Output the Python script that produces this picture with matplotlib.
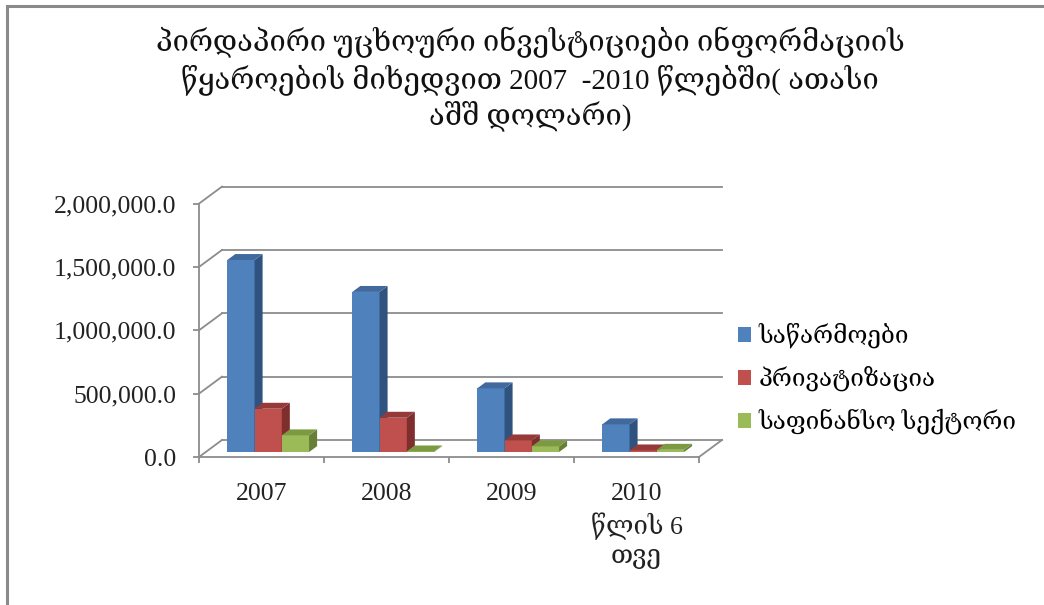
import matplotlib
matplotlib.use("Agg")
import matplotlib.pyplot as plt
from matplotlib.patches import Polygon
from matplotlib.lines import Line2D

plt.rcParams['font.family'] = ['Liberation Serif', 'DejaVu Serif', 'DejaVu Sans']

# data (thousand USD)
categories = ["2007", "2008", "2009", "2010\nწლის 6\nთვე"]
series_names = ["საწარმოები", "პრივატიზაცია", "საფინანსო სექტორი"]
enterprises = [1516000, 1264000, 503000, 219000]
privatization = [342000, 271000, 92000, 13000]
finance = [132000, 5000, 45000, 18000]
yticks = [0, 500000, 1000000, 1500000, 2000000]
title = ("პირდაპირი უცხოური ინვესტიციები ინფორმაციის\n"
         "წყაროების მიხედვით 2007  -2010 წლებში( ათასი\n"
         "აშშ დოლარი)")

series = [enterprises, privatization, finance]
front_col = ['#4F81BD', '#C0504D', '#9BBB59']
side_col = ['#30527E', '#7E2F2D', '#677F36']
top_col = ['#41699E', '#953A38', '#7C9A42']
grid_col = '#8C8C8C'

W, H = 1044, 605
fig = plt.figure(figsize=(W / 100, H / 100), dpi=100)

# front plane: x 0..4 -> px 199..699, y 0..2M -> px 457..203.6
px_x0, px_x1 = 199, 699
px_y0, px_y1 = 457, 203.6
depth_px = (23, 17)
ax_right = 724
ax_top = 185
ux = 4 / (px_x1 - px_x0)
uy = 2e6 / (px_y0 - px_y1)
ax = fig.add_axes([px_x0 / W, (H - px_y0) / H, (ax_right - px_x0) / W, (px_y0 - ax_top) / H])
ax.set_xlim(0, (ax_right - px_x0) * ux)
ax.set_ylim(0, (px_y0 - ax_top) * uy)
ddx, ddy = depth_px[0] * ux, depth_px[1] * uy

# walls: back gridlines and left diagonals
for v in yticks:
    ax.plot([ddx, 4 + ddx], [v + ddy, v + ddy], color=grid_col, lw=1.3, zorder=1, clip_on=False)
    ax.plot([0, ddx], [v, v + ddy], color=grid_col, lw=1.3, zorder=1, clip_on=False)
ax.plot([4, 4 + ddx], [0, ddy], color=grid_col, lw=1.3, zorder=1, clip_on=False)

# bars
n = len(series)
w = 0.218
z0, z1 = 0.29, 0.64
b = z0 * ddy
bdx, bdy = (z1 - z0) * ddx, (z1 - z0) * ddy
handles = []
for i in range(len(categories)):
    for k in range(n):
        h = series[k][i]
        xl = i + 0.5 - 1.5 * w + z0 * ddx + k * w
        xr = xl + w
        zo = 3 + i * 10 + k * 3
        bc = ax.bar(xl, h, width=w, bottom=b, align='edge', color=front_col[k],
                    linewidth=0, zorder=zo, label=series_names[k] if i == 0 else None)
        if i == 0:
            handles.append(bc)
        ax.add_patch(Polygon([(xr, b), (xr + bdx, b + bdy), (xr + bdx, b + h + bdy), (xr, b + h)],
                             closed=True, facecolor=side_col[k], linewidth=0, zorder=zo + 1))
        ax.add_patch(Polygon([(xl, b + h), (xr, b + h), (xr + bdx, b + h + bdy), (xl + bdx, b + h + bdy)],
                             closed=True, facecolor=top_col[k], linewidth=0, zorder=zo + 2))

# axes styling
for s in ['top', 'right']:
    ax.spines[s].set_visible(False)
ax.spines['left'].set_bounds(0, 2e6)
ax.spines['bottom'].set_bounds(0, 4)
for s in ['left', 'bottom']:
    ax.spines[s].set_color(grid_col)
    ax.spines[s].set_linewidth(1.3)
    ax.spines[s].set_zorder(2)

ax.set_yticks(yticks)
ax.set_yticklabels([f"{v:,.1f}" for v in yticks])
ax.tick_params(axis='y', direction='out', length=4.5, width=1.3, color=grid_col,
               labelsize=18.5, pad=12, labelcolor='#222222')
ax.set_xticks(range(5))
ax.set_xticklabels([])
ax.set_xticks([i + 0.5 for i in range(4)], minor=True)
ax.set_xticklabels(categories, minor=True, fontsize=18.5, color='#222222', linespacing=1.35,
                   va='top')
ax.tick_params(axis='x', which='major', direction='out', length=4.5, width=1.3, color=grid_col)
ax.tick_params(axis='x', which='minor', length=0, pad=19)
ax.patch.set_visible(False)

fig.text(0.508, 0.955, title, ha='center', va='top', fontsize=21, linespacing=1.22,
         color='#111111')

fig.legend(handles=handles, labels=series_names, loc='upper left',
           bbox_to_anchor=(716 / W, 1 - 301 / H), frameon=False, fontsize=17.5,
           handlelength=0.55, handleheight=0.55, handletextpad=0.3, labelspacing=0.72)

# outer border (top and left visible)
fig.add_artist(Line2D([7 / W, 7 / W], [0, 1 - 6 / H], color='#8A8A8A', lw=2.2))
fig.add_artist(Line2D([7 / W, 1], [1 - 6 / H, 1 - 6 / H], color='#8A8A8A', lw=2.2))

fig.savefig("out.png", dpi=100)
